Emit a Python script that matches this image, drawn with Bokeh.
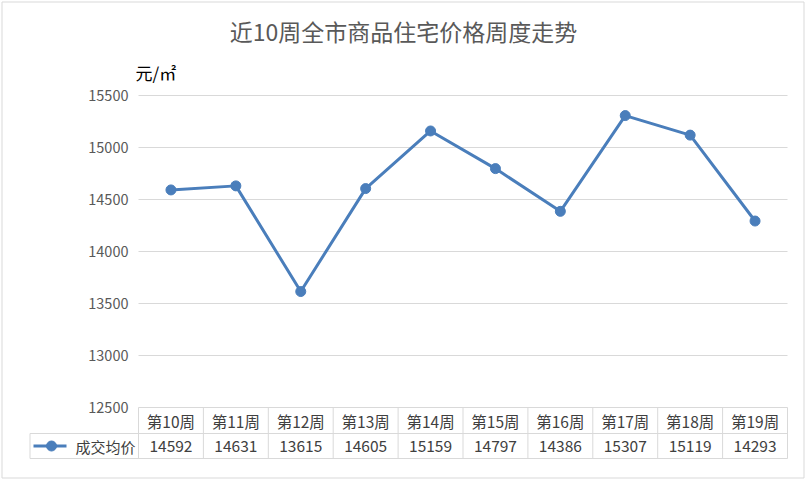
from bokeh.plotting import figure
from bokeh.models import Range1d, ColumnDataSource
from bokeh.embed import file_html
from bokeh.resources import INLINE
from bokeh.core.properties import value

# ---- data ----
title_text = "近10周全市商品住宅价格周度走势"
unit_text = "元/㎡"
series_name = "成交均价"
weeks = ["第10周", "第11周", "第12周", "第13周", "第14周",
         "第15周", "第16周", "第17周", "第18周", "第19周"]
prices = [14592, 14631, 13615, 14605, 15159, 14797, 14386, 15307, 15119, 14293]
y_ticks = [12500, 13000, 13500, 14000, 14500, 15000, 15500]

# ---- styles ----
FONT = "Noto Sans CJK SC"
LINE_COLOR = "#4A7EBB"
GRID = "#D9D9D9"
TEXT = "#404040"
AXIS_TEXT = "#595959"

W, H = 806, 479
n = len(weeks)
xs = list(range(n))
y_min, y_max = y_ticks[0], y_ticks[-1]

# plot-area geometry (pixels) used to set up the scales
PA_L, PA_R, PA_T, PA_B = 138, 787, 95, 407
cat_px = (PA_R - PA_L) / n
val_per_px = (y_max - y_min) / (PA_B - PA_T)


def X(px):
    return -0.5 + (px - PA_L) / cat_px


def Y(py):
    return y_max - (py - PA_T) * val_per_px


p = figure(width=W, height=H,
           x_range=Range1d(X(0), X(W)), y_range=Range1d(Y(H), Y(0)),
           x_axis_type=None, y_axis_type=None,
           toolbar_location=None, output_backend="svg",
           min_border_left=0, min_border_right=0,
           min_border_top=0, min_border_bottom=0)
p.outline_line_color = None
p.xgrid.visible = False
p.ygrid.visible = False
p.background_fill_color = "white"
p.border_fill_color = "white"

# outer chart border
p.quad(left=[X(1.5)], right=[X(803.5)], top=[Y(1.5)], bottom=[Y(477.5)],
       fill_color=None, line_color=GRID, line_width=1)

# horizontal gridlines + value labels
p.segment(x0=[-0.5] * len(y_ticks), x1=[n - 0.5] * len(y_ticks),
          y0=y_ticks, y1=y_ticks, line_color=GRID, line_width=1)
p.text(x=[X(128)] * len(y_ticks), y=y_ticks, text=[str(t) for t in y_ticks],
       text_font=value(FONT), text_font_size="14.5px", text_color=AXIS_TEXT,
       text_align="right", text_baseline="middle")

# data table
row_mid = Y(433)
row_bot = Y(458)
vx = [i - 0.5 for i in range(n + 1)]
p.segment(x0=vx, x1=vx, y0=[y_min] * len(vx), y1=[row_bot] * len(vx),
          line_color=GRID, line_width=1)
x_leg = X(29.5)
p.segment(x0=[x_leg, x_leg, x_leg], x1=[n - 0.5, n - 0.5, x_leg],
          y0=[row_mid, row_bot, row_mid], y1=[row_mid, row_bot, row_bot],
          line_color=GRID, line_width=1)

tsrc = ColumnDataSource(dict(x=xs, wk=weeks, val=[str(v) for v in prices],
                             yh=[(y_min + row_mid) / 2] * n,
                             yv=[(row_mid + row_bot) / 2] * n))
p.text("x", "yh", text="wk", source=tsrc, text_font=value(FONT),
       text_font_size="15.5px", text_color=TEXT,
       text_align="center", text_baseline="middle")
p.text("x", "yv", text="val", source=tsrc, text_font=value(FONT),
       text_font_size="15.5px", text_color=TEXT,
       text_align="center", text_baseline="middle")

# legend key inside table
leg_y = (row_mid + row_bot) / 2
p.line([X(33), X(66)], [leg_y, leg_y], line_color=LINE_COLOR, line_width=3)
p.scatter([X(51)], [leg_y], size=10, marker="circle",
          fill_color=LINE_COLOR, line_color=LINE_COLOR)
p.text([X(75)], [leg_y], text=[series_name], text_font=value(FONT),
       text_font_size="15px", text_color=TEXT,
       text_align="left", text_baseline="middle")

# series
src = ColumnDataSource(dict(x=xs, y=prices))
p.line("x", "y", source=src, line_color=LINE_COLOR, line_width=3)
p.scatter("x", "y", source=src, size=10, marker="circle",
          fill_color=LINE_COLOR, line_color=LINE_COLOR)

# title and unit
p.text([X(403)], [Y(30)], text=[title_text], text_font=value(FONT),
       text_font_size="23px", text_color=AXIS_TEXT,
       text_align="center", text_baseline="middle")
p.text([X(135)], [Y(72)], text=[unit_text], text_font=value(FONT),
       text_font_size="17px", text_color="black",
       text_align="left", text_baseline="middle")

open("out.html", "w").write(file_html(p, INLINE))
